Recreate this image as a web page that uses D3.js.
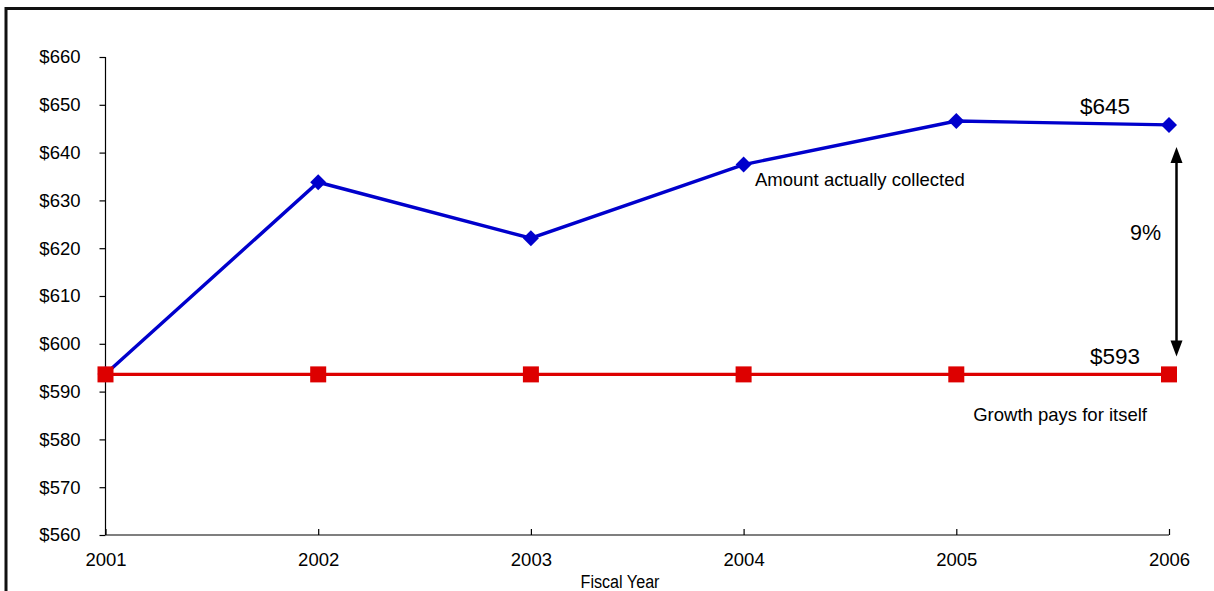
<!DOCTYPE html>
<html><head><meta charset="utf-8">
<script src="https://cdn.jsdelivr.net/npm/d3@7"></script>
<style>
html,body{margin:0;padding:0;background:#fff;}
svg{display:block;font-family:"Liberation Sans",Arial,sans-serif;}
</style></head>
<body><svg id="c" width="1214" height="591"></svg>
<script>
const years = [2001, 2002, 2003, 2004, 2005, 2006];
const collected = [593.7, 633.8, 622.1, 637.5, 646.6, 645.8];
const baseline = [593.6, 593.6, 593.6, 593.6, 593.6, 593.6];
const yTicks = [560, 570, 580, 590, 600, 610, 620, 630, 640, 650, 660];
const labelCollected = "Amount actually collected";
const labelBaseline = "Growth pays for itself";
const endCollected = "$645";
const endBaseline = "$593";
const gapLabel = "9%";
const xTitle = "Fiscal Year";

const svg = d3.select("#c");
// frame
svg.append("line").attr("x1",6).attr("x2",1214).attr("y1",8.5).attr("y2",8.5).attr("stroke","#111").attr("stroke-width",3);
svg.append("line").attr("x1",6).attr("x2",6).attr("y1",7).attr("y2",591).attr("stroke","#111").attr("stroke-width",3);

const x = d3.scaleLinear().domain([2001,2006]).range([105.5,1169]);
const y = d3.scaleLinear().domain([560,660]).range([535,57]);

const yAxis = svg.append("g").attr("transform","translate(105.5,0)")
  .call(d3.axisLeft(y).tickValues(yTicks).tickSize(6).tickPadding(19).tickFormat(d=>"$"+d));
const xAxis = svg.append("g").attr("transform","translate(0,535)")
  .call(d3.axisBottom(x).tickValues(years).tickSize(6).tickPadding(12).tickFormat(d3.format("d")));
[yAxis,xAxis].forEach(g=>{
  g.attr("font-size",null).attr("font-family",null);
  g.selectAll("path,line").attr("stroke","#000").attr("stroke-width",1.2);
  g.selectAll("text").attr("fill","#000").style("font-size","18.5px").style("font-family","'Liberation Sans',Arial,sans-serif");
});
yAxis.select(".domain").attr("d","M0,57V535");
xAxis.select(".domain").attr("d","M105.5,0H1169");
xAxis.selectAll(".tick line").attr("y2",-6).attr("y1",0);
yAxis.selectAll(".tick line").attr("x1",0).attr("x2",-6);

svg.append("text").attr("transform","translate(620,588) scale(0.85,1)").attr("text-anchor","middle")
  .style("font-size","19px").attr("fill","#000").text(xTitle);

const line = d3.line().x((d,i)=>x(years[i])).y(d=>y(d));
svg.append("path").datum(collected).attr("d",line).attr("fill","none").attr("stroke","#0000CC").attr("stroke-width",3.4);
svg.selectAll(".dm").data(collected).join("path")
  .attr("transform",(d,i)=>`translate(${x(years[i])},${y(d)})`)
  .attr("d","M0,-8L8,0L0,8L-8,0Z").attr("fill","#0000CC");
svg.append("path").datum(baseline).attr("d",line).attr("fill","none").attr("stroke","#DD0000").attr("stroke-width",3.4);
svg.selectAll(".sq").data(baseline).join("rect")
  .attr("x",(d,i)=>x(years[i])-8).attr("y",d=>y(d)-8).attr("width",16).attr("height",16).attr("fill","#DD0000");

// labels
svg.append("text").attr("x",755).attr("y",186).style("font-size","18.5px").attr("fill","#000").text(labelCollected);
svg.append("text").attr("x",1147).attr("y",421).attr("text-anchor","end").style("font-size","18.5px").attr("fill","#000").text(labelBaseline);
svg.append("text").attr("x",1130).attr("y",114).attr("text-anchor","end").style("font-size","22.5px").attr("fill","#000").text(endCollected);
svg.append("text").attr("x",1140).attr("y",364).attr("text-anchor","end").style("font-size","22.5px").attr("fill","#000").text(endBaseline);
svg.append("text").attr("x",1161).attr("y",240).attr("text-anchor","end").style("font-size","21.5px").attr("fill","#000").text(gapLabel);

// double arrow
const ax = x(2006)+7.5;
const yTop = y(collected[5])+22, yBot = y(baseline[5])-18;
svg.append("line").attr("x1",ax).attr("x2",ax).attr("y1",yTop+10).attr("y2",yBot-10).attr("stroke","#000").attr("stroke-width",2.5);
svg.append("path").attr("d",`M${ax},${yTop}L${ax-6},${yTop+16}L${ax+6},${yTop+16}Z`).attr("fill","#000");
svg.append("path").attr("d",`M${ax},${yBot}L${ax-6},${yBot-16}L${ax+6},${yBot-16}Z`).attr("fill","#000");
</script></body></html>
